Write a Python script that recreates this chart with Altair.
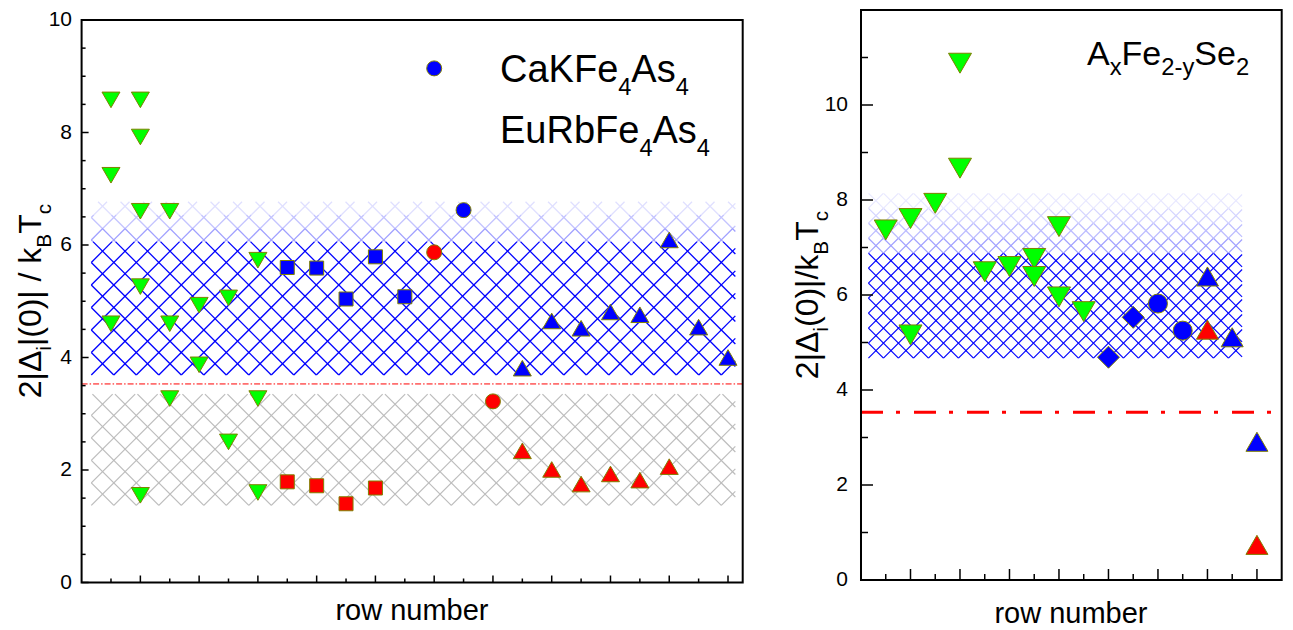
import math
import altair as alt
import pandas as pd

FONT = "Liberation Sans"
OLIVE = "#808000"
GREEN, BLUE, RED = "#00ff00", "#0000ff", "#ff0000"

# ---------------- data : left panel (CaKFe4As4 / EuRbFe4As4) ----------------
L_green_x = [1, 1, 1, 2, 2, 2, 2, 2, 3, 3, 3, 4, 4, 5, 5, 6, 6, 6]
L_green_y = [8.58, 7.24, 4.60, 8.58, 7.92, 6.60, 5.26, 1.55, 6.60, 4.60, 3.27,
             4.93, 3.87, 5.06, 2.50, 5.73, 3.27, 1.60]
L_bsq_x = [7, 8, 9, 10, 11]
L_bsq_y = [5.60, 5.59, 5.04, 5.79, 5.08]
L_rsq_x = [7, 8, 9, 10]
L_rsq_y = [1.79, 1.72, 1.40, 1.68]
L_rci_x = [12, 14]
L_rci_y = [5.87, 3.22]
L_bci_x = [13]
L_bci_y = [6.62]
L_btri_x = [15, 16, 17, 18, 19, 20, 21, 22]
L_btri_y = [3.81, 4.65, 4.52, 4.81, 4.76, 6.09, 4.54, 4.00]
L_rtri_x = [15, 16, 17, 18, 19, 20]
L_rtri_y = [2.34, 2.01, 1.75, 1.93, 1.82, 2.06]
L_key_x = [12]
L_key_y = [9.14]

# ---------------- data : right panel (AxFe2-ySe2) ----------------
R_green_x = [1, 2, 2, 3, 4, 4, 5, 6, 7, 7, 8, 8, 9]
R_green_y = [7.37, 7.61, 5.16, 7.93, 10.88, 8.67, 6.49, 6.60, 6.77, 6.39, 7.44, 5.96, 5.65]
R_bdia_x = [10, 11]
R_bdia_y = [4.69, 5.53]
R_bci_x = [12, 13]
R_bci_y = [5.82, 5.25]
R_btri_x = [14, 15, 16]
R_btri_y = [6.39, 5.11, 2.91]
R_rtri_x = [14, 16]
R_rtri_y = [5.27, 0.74]

BCS = 3.53

# shaded (hatched) bands
L_band_x = [0.33, 22.25]
L_gray_y = [1.37, 3.35]
L_blue_y = [3.69, 6.06]
L_light_y = [6.06, 6.77]
R_band_x = [0.3, 15.4]
R_blue_y = [4.67, 6.88]
R_light_y = [6.88, 8.14]

# axes
L_xdom = [0, 22.5]
L_ydom = [0, 10]
R_xdom = [0, 17]
R_ydom = [0, 12]
L_ytick_major = [0, 2, 4, 6, 8, 10]
L_ytick_minor = [0.5, 1, 1.5, 2.5, 3, 3.5, 4.5, 5, 5.5, 6.5, 7, 7.5, 8.5, 9, 9.5]
L_xtick_major = [2, 4, 6, 8, 10, 12, 14, 16, 18, 20, 22]
L_xtick_minor = [1, 3, 5, 7, 9, 11, 13, 15, 17, 19, 21]
R_ytick_major = [0, 2, 4, 6, 8, 10]
R_ytick_minor = [1, 3, 5, 7, 9, 11]
R_xtick_major = [2, 4, 6, 8, 10, 12, 14, 16]
R_xtick_minor = [1, 3, 5, 7, 9, 11, 13, 15]

# ---------------- layout (pixels) ----------------
L_PX = [81.6, 742.7]
L_PY = [582.5, 20]
R_PX = [861, 1281.7]
R_PY = [580, 10]

LX = alt.Scale(domain=L_xdom, range=L_PX, zero=False, nice=False)
LY = alt.Scale(domain=L_ydom, range=L_PY, zero=False, nice=False)
RX = alt.Scale(domain=R_xdom, range=R_PX, zero=False, nice=False)
RY = alt.Scale(domain=R_ydom, range=R_PY, zero=False, nice=False)

TRI_UP = "M0,-0.866L1,0.866L-1,0.866Z"
TRI_DN = "M-1,-0.866L1,-0.866L0,0.866Z"

ONE = pd.DataFrame({"k": [0]})


def pts(xs, ys, shape, fill, size, sx, sy):
    df = pd.DataFrame({"x": xs, "y": ys})
    return alt.Chart(df).mark_point(
        shape=shape, filled=True, color=fill, stroke=OLIVE, strokeWidth=1,
        opacity=1, size=size
    ).encode(x=alt.X("x:Q", scale=sx, axis=None), y=alt.Y("y:Q", scale=sy, axis=None))


def hatch(xr, yr, px_per_x, px_per_y, step, origin):
    u0, u1 = xr[0] * px_per_x, xr[1] * px_per_x
    v0, v1 = yr[0] * px_per_y, yr[1] * px_per_y
    ou, ov = origin[0] * px_per_x, origin[1] * px_per_y
    segs = []
    base = ou - ov
    kmin = math.ceil((u0 - v1 - base) / step)
    kmax = math.floor((u1 - v0 - base) / step)
    for k in range(kmin, kmax + 1):
        c = base + k * step
        lo, hi = max(u0, v0 + c), min(u1, v1 + c)
        if hi - lo > 0.3:
            segs.append((lo / px_per_x, (lo - c) / px_per_y, hi / px_per_x, (hi - c) / px_per_y))
    base = ou + ov
    kmin = math.ceil((u0 + v0 - base) / step)
    kmax = math.floor((u1 + v1 - base) / step)
    for k in range(kmin, kmax + 1):
        c = base + k * step
        lo, hi = max(u0, c - v1), min(u1, c - v0)
        if hi - lo > 0.3:
            segs.append((lo / px_per_x, (c - lo) / px_per_y, hi / px_per_x, (c - hi) / px_per_y))
    return pd.DataFrame(segs, columns=["x", "y", "x2", "y2"])


def hatch_layer(df, color, width, sx, sy):
    return alt.Chart(df).mark_rule(color=color, strokeWidth=width).encode(
        x=alt.X("x:Q", scale=sx, axis=None), y=alt.Y("y:Q", scale=sy, axis=None),
        x2="x2:Q", y2="y2:Q")


def bands(band_x, dense_y, light_y, light_cols, dense_col, px, py, xdom, ydom, step, width, sx, sy):
    ppx = (px[1] - px[0]) / (xdom[1] - xdom[0])
    ppy = (py[0] - py[1]) / (ydom[1] - ydom[0])
    origin = (band_x[0], dense_y[0])
    layers = [hatch_layer(hatch(band_x, dense_y, ppx, ppy, step, origin), dense_col, width, sx, sy)]
    n = len(light_cols)
    for i, col in enumerate(light_cols):
        a = light_y[0] + (light_y[1] - light_y[0]) * i / n
        b = light_y[0] + (light_y[1] - light_y[0]) * (i + 1) / n
        layers.append(hatch_layer(hatch(band_x, [a, b], ppx, ppy, step, origin), col, width, sx, sy))
    return layers


def yticks(vals, length, px0, sy):
    df = pd.DataFrame({"v": vals})
    return alt.Chart(df).mark_rule(color="black", strokeWidth=1.5).encode(
        y=alt.Y("v:Q", scale=sy, axis=None), x=alt.value(px0), x2=alt.value(px0 + length))


def xticks(vals, length, py0, sx):
    df = pd.DataFrame({"v": vals})
    return alt.Chart(df).mark_rule(color="black", strokeWidth=1.5).encode(
        x=alt.X("v:Q", scale=sx, axis=None), y=alt.value(py0), y2=alt.value(py0 - length))


def ylabels(vals, xpos, sy):
    df = pd.DataFrame({"v": vals, "t": [str(v) for v in vals]})
    return alt.Chart(df).mark_text(font=FONT, fontSize=21, align="right", baseline="middle",
                                   color="black").encode(
        y=alt.Y("v:Q", scale=sy, axis=None), x=alt.value(xpos), text="t:N")


def frame(xdom, ydom, sx, sy):
    df = pd.DataFrame({"x": [xdom[0]], "x2": [xdom[1]], "y": [ydom[0]], "y2": [ydom[1]]})
    return alt.Chart(df).mark_rect(fillOpacity=0, stroke="black", strokeWidth=2).encode(
        x=alt.X("x:Q", scale=sx, axis=None), x2="x2:Q",
        y=alt.Y("y:Q", scale=sy, axis=None), y2="y2:Q")


def bcs_line(xdom, dash, width, sx, sy):
    df = pd.DataFrame({"x": [xdom[0]], "x2": [xdom[1]], "y": [BCS]})
    return alt.Chart(df).mark_rule(color=RED, strokeWidth=width, strokeDash=dash).encode(
        x=alt.X("x:Q", scale=sx, axis=None), x2="x2:Q", y=alt.Y("y:Q", scale=sy, axis=None))


# Arial / Liberation Sans advance widths (1/1000 em)
ADV = {"0": 556, "1": 556, "2": 556, "4": 556, "|": 260, "(": 333, ")": 333, " ": 278, "/": 278,
       "-": 333, "A": 667, "B": 667, "C": 722, "E": 667, "F": 611, "K": 667, "R": 722, "S": 667,
       "T": 611, "a": 556, "b": 556, "c": 500, "e": 556, "i": 222, "k": 500, "s": 500, "u": 556,
       "x": 500, "y": 500, "Δ": 668}


def rich(pieces, x, y, F, sub=0.65, drop=0.3, angle=0, center=False):
    items = []
    pos = 0.0
    for t, is_sub in pieces:
        size = F * sub if is_sub else F
        items.append((t, pos, drop * F if is_sub else 0.0, size))
        pos += sum(ADV.get(ch, 556) for ch in t) * size / 1000.0
    start = -pos / 2 if center else 0.0
    out = []
    for t, along, perp, size in items:
        if angle == 0:
            px, py = x + start + along, y + perp
        else:
            px, py = x + perp, y - (start + along)
        out.append(alt.Chart(ONE).mark_text(
            text=t, font=FONT, fontSize=size, align="left", baseline="alphabetic",
            angle=angle, color="black").encode(x=alt.value(px), y=alt.value(py)))
    return out


# ---------------- left panel ----------------
l_bands = bands(L_band_x, L_blue_y, L_light_y, ["#a0a0ff", "#c4c4ff", "#e0e0ff"], BLUE,
                L_PX, L_PY, L_xdom, L_ydom, 22.5, 1.3, LX, LY)
ppx = (L_PX[1] - L_PX[0]) / (L_xdom[1] - L_xdom[0])
ppy = (L_PY[0] - L_PY[1]) / (L_ydom[1] - L_ydom[0])
l_gray = hatch_layer(hatch(L_band_x, L_gray_y, ppx, ppy, 22.5, (L_band_x[0], L_gray_y[0])),
                     "#bcbcbc", 1.2, LX, LY)

left = alt.layer(
    l_gray, *l_bands,
    bcs_line(L_xdom, [6, 2, 1.5, 2], 1, LX, LY),
    pts(L_green_x, L_green_y, TRI_DN, GREEN, 324, LX, LY),
    pts(L_bsq_x, L_bsq_y, "square", BLUE, 196, LX, LY),
    pts(L_rsq_x, L_rsq_y, "square", RED, 196, LX, LY),
    pts(L_rci_x, L_rci_y, "circle", RED, 225, LX, LY),
    pts(L_bci_x, L_bci_y, "circle", BLUE, 225, LX, LY),
    pts(L_btri_x, L_btri_y, TRI_UP, BLUE, 324, LX, LY),
    pts(L_rtri_x, L_rtri_y, TRI_UP, RED, 324, LX, LY),
    pts(L_key_x, L_key_y, "circle", BLUE, 225, LX, LY),
    yticks(L_ytick_major, 7, L_PX[0], LY),
    yticks(L_ytick_minor, 4, L_PX[0], LY),
    xticks(L_xtick_major, 7, L_PY[0], LX),
    xticks(L_xtick_minor, 4, L_PY[0], LX),
    ylabels(L_ytick_major, 72, LY),
    frame(L_xdom, L_ydom, LX, LY),
)

# ---------------- right panel ----------------
r_bands = bands(R_band_x, R_blue_y, R_light_y, ["#a0a0ff", "#bcbcff", "#d4d4ff", "#e8e8ff"],
                BLUE, R_PX, R_PY, R_xdom, R_ydom, 15, 1.2, RX, RY)

right = alt.layer(
    *r_bands,
    bcs_line(R_xdom, [22, 13, 4, 14], 3, RX, RY),
    pts(R_green_x, R_green_y, TRI_DN, GREEN, 529, RX, RY),
    pts(R_bdia_x, R_bdia_y, "diamond", BLUE, 484, RX, RY),
    pts(R_bci_x, R_bci_y, "circle", BLUE, 361, RX, RY),
    pts(R_btri_x, R_btri_y, TRI_UP, BLUE, 484, RX, RY),
    pts(R_rtri_x, R_rtri_y, TRI_UP, RED, 484, RX, RY),
    yticks(R_ytick_major, 12, R_PX[0], RY),
    yticks(R_ytick_minor, 7, R_PX[0], RY),
    xticks(R_xtick_major, 11, R_PY[0], RX),
    xticks(R_xtick_minor, 6, R_PY[0], RX),
    ylabels(R_ytick_major, 848, RY),
    frame(R_xdom, R_ydom, RX, RY),
)

# ---------------- texts ----------------
texts = []
texts += rich([("2|Δ", 0), ("i", 1), ("|(0)| / k", 0), ("B", 1), ("T", 0), ("c", 1)],
              41, 301, 32, angle=270, center=True)
texts += rich([("2|Δ", 0), ("i", 1), ("(0)|/k", 0), ("B", 1), ("T", 0), ("c", 1)],
              818, 295, 32, angle=270, center=True)
texts += rich([("row number", 0)], 412, 620, 29, center=True)
texts += rich([("row number", 0)], 1071, 623, 29, center=True)
texts += rich([("CaKFe", 0), ("4", 1), ("As", 0), ("4", 1)], 500, 82, 38, sub=0.62, drop=0.33)
texts += rich([("EuRbFe", 0), ("4", 1), ("As", 0), ("4", 1)], 500, 143, 38, sub=0.62, drop=0.33)
texts += rich([("A", 0), ("x", 1), ("Fe", 0), ("2-y", 1), ("Se", 0), ("2", 1)], 1087, 65, 34,
              sub=0.7, drop=0.3)

chart = alt.layer(left, right, *texts).resolve_scale(
    x="independent", y="independent"
).properties(
    width=1293, height=630, autosize=alt.AutoSizeParams(type="none"), padding=0,
    background="white"
).configure_view(strokeWidth=0)

chart.save("out.html", embed_options={"renderer": "svg", "actions": False})
